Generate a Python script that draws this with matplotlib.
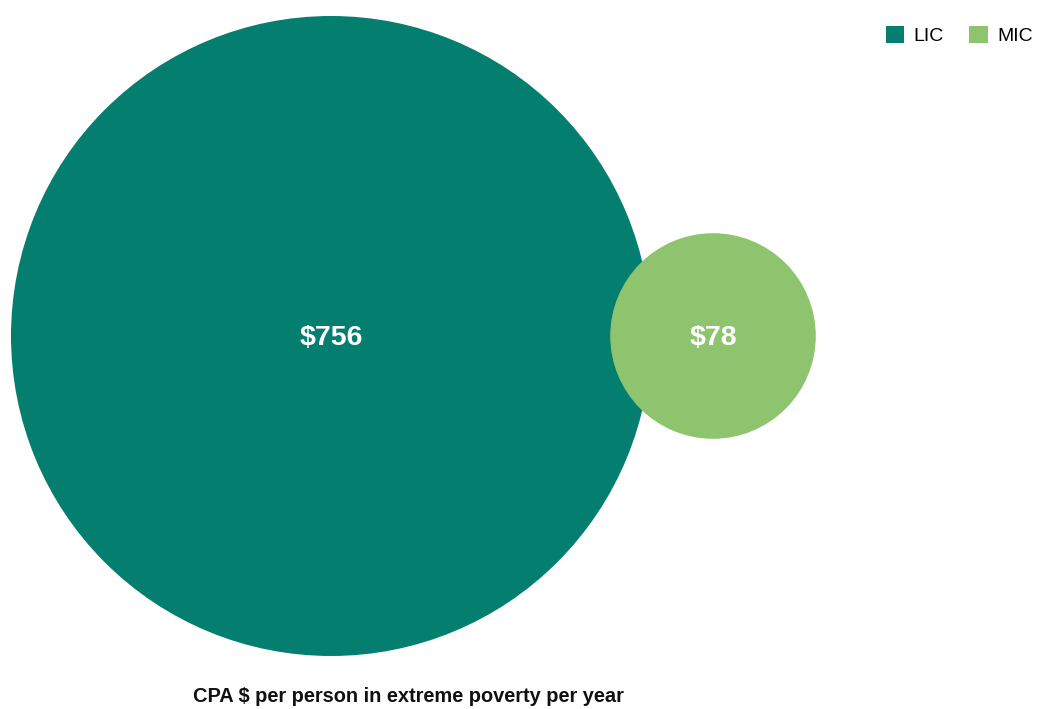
import numpy as np
import matplotlib.pyplot as plt
from matplotlib.patches import Circle, Patch

plt.rcParams['font.family'] = ['Liberation Sans Narrow', 'Liberation Sans', 'DejaVu Sans']

groups = ["LIC", "MIC"]
values = [756, 78]
labels = ["$756", "$78"]
colors = ["#047E6F", "#8FC46E"]
x_pos = [331, 713]
caption = "CPA $ per person in extreme poverty per year"

W, H = 1037, 709
fig = plt.figure(figsize=(W / 100, H / 100), dpi=100)
ax = fig.add_axes([0, 0, 1, 1])
ax.set_xlim(0, W)
ax.set_ylim(H, 0)
ax.set_aspect('equal')
ax.axis('off')

# bubble area proportional to value
k = 320 / np.sqrt(max(values))
cy = 336
for x, v, c, lab in zip(x_pos, values, colors, labels):
    ax.add_patch(Circle((x, cy), k * np.sqrt(v), color=c, lw=0))
    ax.text(x, cy + 2, lab.replace("$", r"\$"), color="white", fontsize=20.5,
            fontweight="bold", ha="center", va="center")

ax.text(408, 697, caption.replace("$", r"\$"), fontsize=14.4, fontweight="bold",
        ha="center", va="center", color="#111111")

handles = [Patch(facecolor=c, edgecolor="none") for c in colors]
fig.legend(handles, groups, loc="upper right", bbox_to_anchor=(1.0, 0.969),
           ncol=2, frameon=False, fontsize=14, handlelength=0.95,
           handleheight=0.95, handletextpad=0.5, columnspacing=1.3,
           borderaxespad=0, borderpad=0.2)

fig.savefig("out.png", dpi=100)
